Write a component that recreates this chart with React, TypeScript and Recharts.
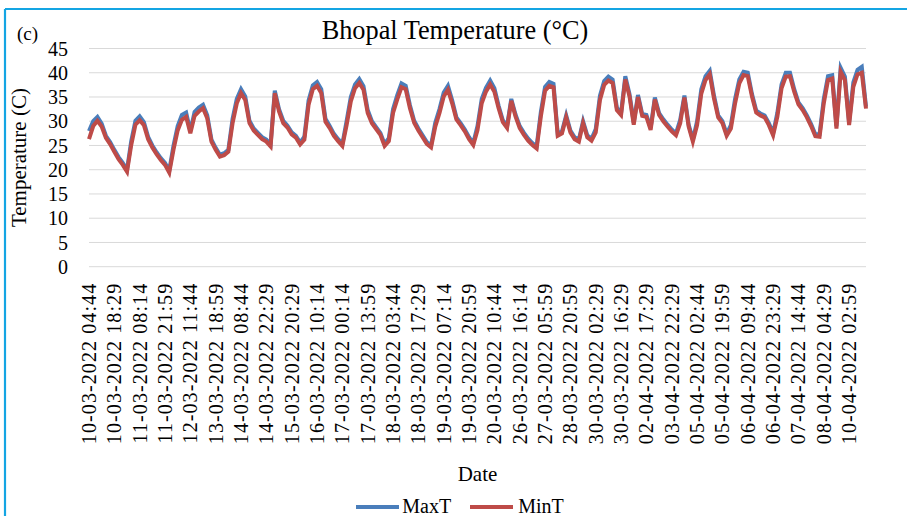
import { LineChart, Line, XAxis, YAxis, CartesianGrid, Legend } from "recharts";

const FONT = "'Liberation Serif', 'Times New Roman', serif";
const BLUE = "#4a7ebb";
const RED = "#be4b48";
const FRAME = "#14a5e3";

// readings are sampled so that every 6th one lands on a date label
const SAMPLES_PER_LABEL = 6;

const DATE_LABELS = [
  "10-03-2022 04:44", "10-03-2022 18:29", "11-03-2022 08:14", "11-03-2022 21:59",
  "12-03-2022 11:44", "13-03-2022 18:59", "14-03-2022 08:44", "14-03-2022 22:29",
  "15-03-2022 20:29", "16-03-2022 10:14", "17-03-2022 00:14", "17-03-2022 13:59",
  "18-03-2022 03:44", "18-03-2022 17:29", "19-03-2022 07:14", "19-03-2022 20:59",
  "20-03-2022 10:44", "26-03-2022 16:14", "27-03-2022 05:59", "28-03-2022 20:59",
  "30-03-2022 02:29", "30-03-2022 16:29", "02-04-2022 17:29", "03-04-2022 22:29",
  "05-04-2022 02:44", "05-04-2022 19:59", "06-04-2022 09:44", "06-04-2022 23:29",
  "07-04-2022 14:44", "08-04-2022 04:29", "10-04-2022 02:59",
];

const MAX_T = [
  28.0, 30.0, 30.9, 29.5, 27.0, 25.7, 24.1, 22.6, 21.4, 20.0,
  25.9, 30.1, 31.0, 29.8, 26.8, 25.0, 23.6, 22.4, 21.4, 19.8,
  24.9, 29.0, 31.3, 31.8, 28.0, 31.9, 32.8, 33.4, 31.2, 26.2,
  24.5, 23.1, 23.4, 24.1, 30.5, 34.6, 36.6, 35.1, 30.1, 28.5,
  27.6, 26.7, 26.2, 25.2, 36.3, 32.5, 30.1, 29.1, 27.7, 27.0,
  25.6, 26.8, 34.3, 37.4, 38.1, 36.6, 30.5, 29.0, 27.4, 26.3,
  25.3, 30.0, 35.0, 37.6, 38.7, 37.2, 32.3, 30.0, 28.8, 27.6,
  25.3, 26.5, 32.5, 35.4, 37.8, 37.3, 33.3, 30.1, 28.5, 27.1,
  25.7, 25.0, 29.7, 32.5, 35.9, 37.3, 34.3, 30.8, 29.6, 28.3,
  26.7, 25.5, 29.0, 34.6, 36.9, 38.4, 36.8, 33.2, 30.2, 29.0,
  34.6, 31.4, 29.0, 27.6, 26.4, 25.5, 24.8, 31.9, 37.1, 38.1,
  37.7, 27.4, 27.9, 31.2, 28.1, 26.7, 26.2, 30.0, 27.1, 26.4,
  28.4, 35.3, 38.3, 39.2, 38.6, 32.8, 31.7, 39.3, 35.6, 29.7,
  35.4, 31.5, 31.3, 28.6, 34.9, 31.7, 30.4, 29.3, 28.3, 27.5,
  30.3, 35.3, 29.3, 26.2, 30.0, 36.6, 39.3, 40.4, 35.3, 31.2,
  30.0, 27.4, 29.2, 34.6, 38.6, 40.2, 40.0, 35.6, 32.2, 31.6,
  31.2, 29.6, 27.5, 31.7, 37.6, 40.0, 40.0, 36.6, 33.9, 32.7,
  31.2, 29.4, 27.3, 27.3, 34.6, 39.3, 39.5, 29.0, 41.0, 39.2,
  29.8, 38.0, 40.6, 41.2, 33.0,
];

const MIN_T = [
  26.3, 29.0, 30.1, 28.9, 26.6, 25.3, 23.7, 22.2, 21.0, 19.6,
  25.1, 29.3, 30.2, 29.2, 26.3, 24.6, 23.2, 22.0, 21.0, 19.4,
  24.1, 28.1, 30.3, 30.9, 27.5, 31.1, 32.0, 32.7, 30.6, 25.8,
  24.1, 22.7, 23.0, 23.7, 29.6, 33.7, 35.8, 34.4, 29.6, 28.1,
  27.2, 26.3, 25.8, 24.8, 35.8, 32.0, 29.6, 28.7, 27.3, 26.6,
  25.2, 26.2, 33.4, 36.6, 37.3, 35.8, 29.9, 28.6, 27.0, 25.9,
  24.9, 29.2, 34.1, 36.8, 37.9, 36.5, 31.7, 29.6, 28.4, 27.2,
  24.9, 25.9, 31.7, 34.5, 37.0, 36.6, 32.7, 29.7, 28.1, 26.7,
  25.3, 24.6, 28.9, 31.7, 35.1, 36.5, 33.7, 30.4, 29.2, 27.9,
  26.3, 25.1, 28.2, 33.7, 36.1, 37.6, 36.1, 32.7, 29.8, 28.6,
  34.2, 31.0, 28.6, 27.2, 26.0, 25.1, 24.4, 31.0, 36.3, 37.3,
  37.0, 27.0, 27.5, 30.8, 27.7, 26.3, 25.8, 29.6, 26.7, 26.0,
  27.7, 34.4, 37.5, 38.4, 37.9, 32.3, 31.3, 38.6, 35.1, 29.3,
  35.0, 31.1, 30.9, 28.2, 34.5, 31.3, 30.0, 28.9, 27.9, 27.1,
  29.6, 34.9, 28.9, 25.8, 29.2, 35.7, 38.5, 39.7, 34.7, 30.8,
  29.6, 27.0, 28.5, 33.7, 37.8, 39.5, 39.3, 35.1, 31.8, 31.2,
  30.8, 29.2, 27.1, 30.9, 36.8, 39.2, 39.3, 36.1, 33.5, 32.3,
  30.8, 29.0, 26.9, 26.8, 33.7, 38.5, 38.8, 28.5, 40.2, 38.5,
  29.2, 37.1, 39.7, 40.0, 32.6,
];

const Y_TICKS = [0, 5, 10, 15, 20, 25, 30, 35, 40, 45];

const SERIES = [
  { key: "maxT", name: "MaxT", color: BLUE },
  { key: "minT", name: "MinT", color: RED },
];

const data = MAX_T.map((v, i) => ({ i, maxT: v, minT: MIN_T[i] }));
const xTicks = DATE_LABELS.map((_, k) => k * SAMPLES_PER_LABEL);

const tickStyle = { fontSize: 20, fill: "#000", fontFamily: FONT };

function DateTick({ x, y, payload }: any) {
  const label = DATE_LABELS[Math.round(payload.value / SAMPLES_PER_LABEL)];
  return (
    <text
      x={x}
      y={y}
      transform={`rotate(-90, ${x}, ${y})`}
      textAnchor="end"
      dominantBaseline="central"
      fontSize={20}
      letterSpacing={1.1}
      fontFamily={FONT}
      fill="#000"
    >
      {label}
    </text>
  );
}

function LegendContent() {
  return (
    <div
      style={{
        display: "flex",
        justifyContent: "center",
        alignItems: "center",
        height: 20,
        paddingLeft: 13,
        fontFamily: FONT,
        fontSize: 20,
        color: "#000",
      }}
    >
      {SERIES.map((s, idx) => (
        <div key={s.key} style={{ display: "flex", alignItems: "center", marginLeft: idx ? 19 : 0 }}>
          <div style={{ width: 43, height: 4, background: s.color, marginRight: idx ? 5 : 3 }} />
          <span>{s.name}</span>
        </div>
      ))}
    </div>
  );
}

export default function App() {
  return (
    <div
      style={{
        position: "fixed",
        left: 0,
        top: 0,
        width: 907,
        height: 516,
        overflow: "hidden",
        background: "#fff",
      }}
    >
      <div style={{ position: "absolute", left: 0, top: 0 }}>
        <LineChart width={907} height={516} data={data} margin={{ top: 48.5, right: 0, bottom: 0, left: 0 }}>
          <CartesianGrid vertical={false} stroke="#d9d9d9" />
          <XAxis
            dataKey="i"
            type="number"
            domain={[0, MAX_T.length - 1]}
            ticks={xTicks}
            interval={0}
            tick={<DateTick />}
            tickLine={false}
            axisLine={false}
            tickSize={0}
            tickMargin={16}
            height={229.3}
            label={{ value: "Date", position: "insideBottom", offset: 15.5, fontSize: 21, fill: "#000", fontFamily: FONT }}
          />
          <YAxis
            domain={[0, 45]}
            ticks={Y_TICKS}
            interval={0}
            width={89}
            tick={tickStyle}
            tickLine={false}
            axisLine={false}
            tickSize={0}
            tickMargin={21}
            label={{
              value: "Temperature (C)",
              angle: -90,
              position: "insideLeft",
              offset: 19,
              fontSize: 21,
              fill: "#000",
              fontFamily: FONT,
              style: { textAnchor: "middle" },
            }}
          />
          <YAxis
            yAxisId="r"
            orientation="right"
            domain={[0, 45]}
            ticks={Y_TICKS}
            interval={0}
            width={41}
            tick={tickStyle}
            tickLine={false}
            axisLine={false}
            tickSize={0}
            tickMargin={19}
          />
          {SERIES.map((s) => (
            <Line
              key={s.key}
              type="linear"
              dataKey={s.key}
              name={s.name}
              stroke={s.color}
              strokeWidth={4}
              dot={false}
              isAnimationActive={false}
            />
          ))}
          <Legend
            verticalAlign="bottom"
            height={20}
            wrapperStyle={{ top: 496.7, bottom: "auto" }}
            content={<LegendContent />}
          />
        </LineChart>
      </div>
      <svg
        width={907}
        height={516}
        style={{ position: "absolute", left: 0, top: 0, pointerEvents: "none" }}
      >
        <line x1={5} y1={9} x2={907} y2={9} stroke={FRAME} strokeWidth={2.2} />
        <line x1={5} y1={9} x2={5} y2={516} stroke={FRAME} strokeWidth={2.2} />
        <text x={455} y={39.3} textAnchor="middle" fontSize={26.3} fontFamily={FONT} fill="#000">
          Bhopal Temperature (°C)
        </text>
        <text x={17} y={40} fontSize={19} fontFamily={FONT} fill="#000">
          (c)
        </text>
      </svg>
    </div>
  );
}
